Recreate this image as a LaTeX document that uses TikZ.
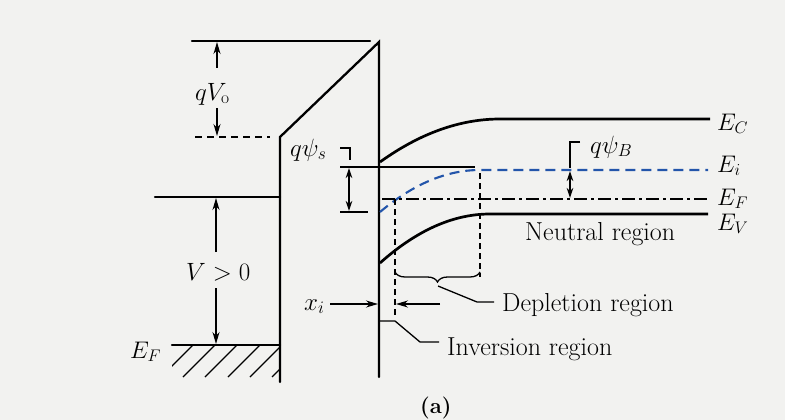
\RequirePackage{fix-cm}
\documentclass[tikz,border=0pt]{standalone}
\usepackage{fontspec}
\usetikzlibrary{arrows.meta,decorations.pathreplacing}
\definecolor{bgc}{RGB}{242,242,240}
\definecolor{eiblue}{RGB}{35,85,170}
\begin{document}
\begin{tikzpicture}[x=1pt,y=-1pt,
  mainline/.style={line width=2.3pt,line cap=round},
  bandline/.style={line width=2.7pt},
  thinline/.style={line width=1.3pt},
  arr/.style={thinline,-{Stealth[length=12pt,width=7pt]}},
  darr/.style={thinline,{Stealth[length=10pt,width=6.5pt]}-{Stealth[length=10pt,width=6.5pt]}},
  vdash/.style={line width=1.3pt,dash pattern=on 6pt off 4pt},
  txt/.style={font=\fontsize{26}{30}\selectfont,inner sep=0pt,anchor=base west},
  mlbl/.style={font=\fontsize{25}{29}\selectfont,inner sep=0pt,anchor=base west},
  elbl/.style={font=\fontsize{24}{28}\selectfont,inner sep=0pt,anchor=base west},
]
\fill[bgc] (0,0) rectangle (785,420);
\path[use as bounding box] (0,0) rectangle (785,420);

% --- coordinates ---
\coordinate (tl) at (192,41);
\coordinate (tr) at (370,41);
\coordinate (peak) at (379,42);
\coordinate (ox) at (280,137);
\coordinate (obot) at (379,377);
\coordinate (mbot) at (280,382);
\coordinate (dl) at (195,137);
\coordinate (dr) at (270,137);
\coordinate (ml) at (155,197);
\coordinate (mr) at (280,197);
\coordinate (efl) at (172,345);
\coordinate (efr) at (280,345);

% --- metal / oxide outline ---
\draw[mainline] (tl) -- (tr);
\draw[mainline,line join=miter] (mbot) -- (ox) -- (peak) -- (obot);
\draw[mainline] (ml) -- (mr);
\draw[mainline] (efl) -- (efr);
\draw[line width=1.6pt,dash pattern=on 7pt off 5pt] (dl) -- (dr);

% hatching
\begin{scope}
  \clip (172,345) rectangle (280,378);
  \foreach \hx in {161,183,205,228,250,272}
    \draw[line width=1.4pt] (\hx,377) -- ++(32,-32);
\end{scope}

% qV_o
\coordinate (qva) at (217,68);
\coordinate (qvb) at (217,42);
\coordinate (qvc) at (217,108);
\coordinate (qvd) at (217,136);
\draw[arr] (qva) -- (qvb);
\draw[arr] (qvc) -- (qvd);
\node[mlbl] (qVo) at (195,100) {$qV_{\mathrm{o}}$};

% V > 0
\coordinate (va) at (216,252);
\coordinate (vb) at (216,198);
\coordinate (vc) at (216,288);
\coordinate (vd) at (216,344);
\draw[arr] (va) -- (vb);
\draw[arr] (vc) -- (vd);
\node[mlbl] (Vpos) at (186,280) {$V>0$};
\node[elbl] (EFm) at (130,358) {$E_F$};

% --- semiconductor bands ---
\draw[bandline] (380,162) .. controls (420,133.3) and (460,119) .. (500,119) -- (710,119);
\draw[eiblue,line width=2.1pt,dash pattern=on 10pt off 6pt] (380,212) .. controls (413.3,184) and (446.7,170) .. (480,170) -- (708,170);
\draw[bandline] (380,263) .. controls (416.7,230.3) and (453.3,214) .. (490,214) -- (708,214);
\draw[line width=2.5pt,dash pattern=on 13pt off 4pt on 3pt off 4pt] (382,199) -- (708,199);

\node[elbl] (EC) at (717,130) {$E_C$};
\node[elbl] (Ei) at (717,172) {$E_i$};
\node[elbl] (EF) at (717,205) {$E_F$};
\node[elbl] (EV) at (717,230) {$E_V$};
\node[txt] (neutral) at (525,240) {Neutral region};

% q psi_s
\draw[line width=2pt] (340,167) -- (475,167);
\draw[line width=2pt] (340,212) -- (368,212);
\draw[thinline] (340,148) -- (350,148) -- (350,160);
\draw[darr] (349,168) -- (349,211);
\node[mlbl] (qpsis) at (290,156) {$q\psi_s$};

% q psi_B
\draw[thinline] (580,142) -- (570,142) -- (570,168);
\draw[darr] (570,171) -- (570,198);
\node[mlbl] (qpsiB) at (590,153) {$q\psi_B$};

% dashed verticals
\draw[vdash] (395,199) -- (395,318);
\draw[vdash] (480,173) -- (480,277);

% depletion brace
\draw[thinline,decorate,decoration={brace,amplitude=10pt,mirror}] (395,272) -- (480,272);
\coordinate (bt) at (438,286);
\coordinate (bk) at (477,302);
\coordinate (be) at (494,302);
\draw[thinline] (bt) -- (bk) -- (be);
\node[txt] (depl) at (502,311) {Depletion region};

% x_i
\draw[arr] (330,304) -- (378,304);
\draw[arr] (440,304) -- (396,304);
\node[mlbl] (xi) at (304,310) {$x_i$};

% inversion
\draw[thinline] (380,321) -- (395,321) -- (420,342) -- (439,342);
\node[txt] (inv) at (447,355) {Inversion region};

\node[font=\fontsize{22}{26}\selectfont\bfseries,inner sep=0pt,anchor=base west] (cap) at (420,413) {(a)};
\end{tikzpicture}
\end{document}
